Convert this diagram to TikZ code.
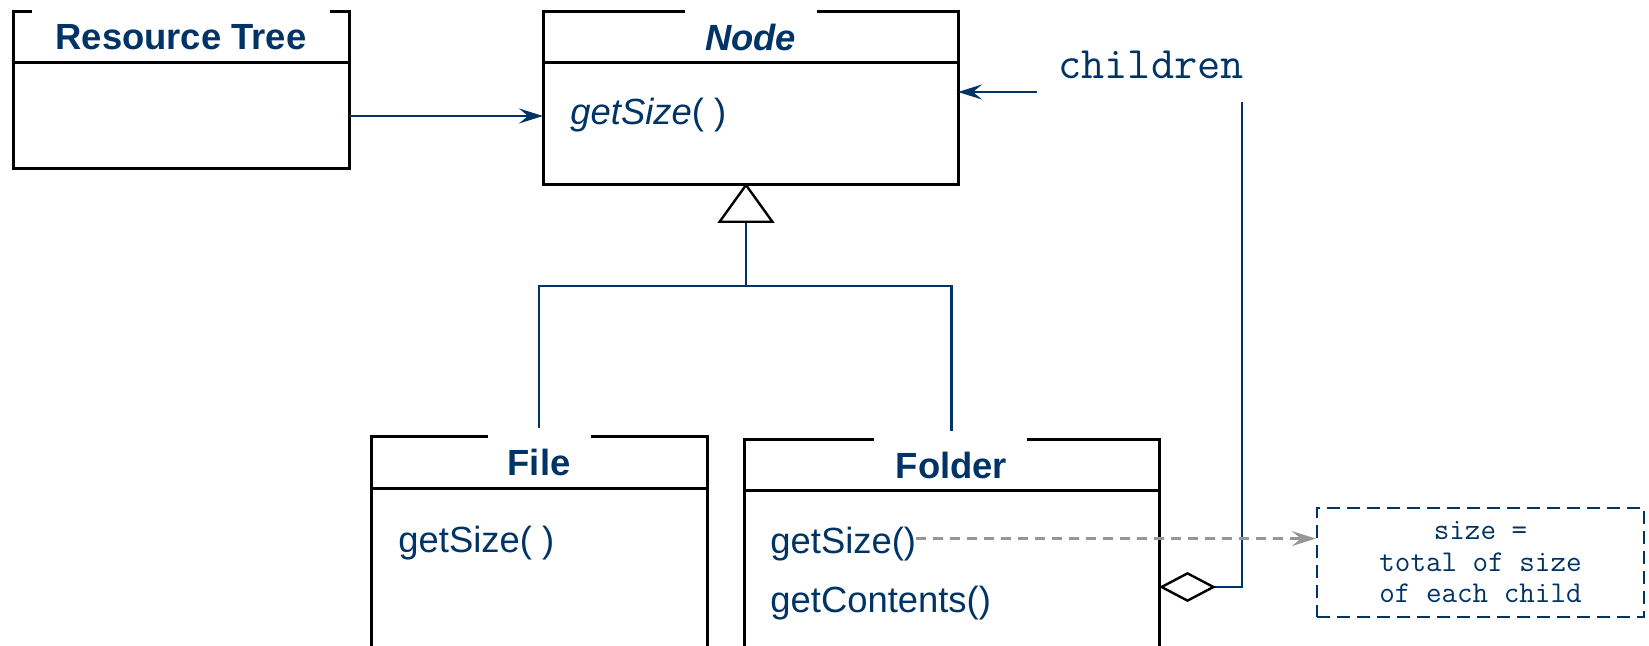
\documentclass[tikz,border=0pt]{standalone}
\usepackage{fontspec}
\setmainfont{Liberation Sans}
\usetikzlibrary{arrows.meta}
\definecolor{umlblue}{RGB}{0,51,102}
\definecolor{depgray}{RGB}{150,150,150}

\begin{document}
\begin{tikzpicture}[x=0.5pt,y=-0.5pt,
	head/.style={draw=black,line width=1.5pt,inner sep=0pt,outer sep=0pt,text=umlblue,font=\fontsize{18.2}{22}\selectfont\bfseries},
	body/.style={draw=black,line width=1.5pt,inner sep=0pt,outer sep=0pt,anchor=north},
	op/.style={inner sep=0pt,text=umlblue,font=\fontsize{18.2}{22}\selectfont},
	gap/.style={white,line width=2.4pt},
	conn/.style={umlblue,line width=1.25pt},
	nav/.style={conn,-{Stealth[length=12pt,width=7.5pt,inset=4.5pt]}},
	gen/.style={conn,shorten >=-1pt,-{Triangle[open,color=black,length=20pt,width=28.5pt,line width=1.2pt]}},
	dep/.style={depgray,line width=1.2pt,dash pattern=on 5pt off 3.5pt,-{Stealth[length=12pt,width=7.5pt,inset=4.5pt]}},
	note/.style={draw=umlblue,line width=1.2pt,dash pattern=on 6.5pt off 3.5pt,inner sep=0pt,text=umlblue,align=center,font=\ttfamily\fontsize{15.1}{15.75}\selectfont}]
	\useasboundingbox (0,0) rectangle (1649,646);
	\node[head,minimum width=168pt,minimum height=25.5pt] (treehead) at (181,37.5) {Resource Tree};
	\node[body,minimum width=168pt,minimum height=53pt] (treebody) at (treehead.south) {};
	\draw[gap] (32,12) -- (330,12);
	\node[head,minimum width=207.5pt,minimum height=25.5pt] (nodehead) at (750.5,37.5) {\itshape Node};
	\node[body,minimum width=207.5pt,minimum height=61pt] (nodebody) at (nodehead.south) {};
	\draw[gap] (685,12) -- (817,12);
	\node[op,anchor=base west] (nodeop) at (570,125) {\textit{getSize}( )};
	\node[head,minimum width=168pt,minimum height=25.65pt] (filehead) at (539,462.4) {File};
	\node[body,minimum width=168pt,minimum height=82pt] (filebody) at (filehead.south) {};
	\draw[gap] (488,436.7) -- (591,436.7);
	\node[op,anchor=base west] (fileop) at (398,552) {getSize( )};
	\node[head,minimum width=207.5pt,minimum height=25pt] (folderhead) at (951.5,465) {Folder};
	\node[body,minimum width=207.5pt,minimum height=81pt] (folderbody) at (folderhead.south) {};
	\draw[gap] (874,440) -- (1027,440);
	\node[op,anchor=base west] (folderop) at (770,553) {getSize()};
	\node[op,anchor=west] (foldercont) at (770,603) {getContents()};
	\node[op,anchor=base west,font=\ttfamily\fontsize{22.5}{26}\selectfont] (childlabel) at (1058,79) {children};
	\node[note,minimum width=163.5pt,minimum height=54.5pt] (sizenote) at (1480.5,562.5) {size =\\total of size\\of each child};
	\coordinate (childfoot) at (1037,92);
	\coordinate (aggtop) at (1242,102);
	\coordinate (aggcorner) at (1242,587);
	\coordinate (genjoint) at (746,286);
	\draw[nav] (treebody.east) -- (treebody.east -| nodebody.west);
	\draw[nav] (childfoot) -- (childfoot -| nodebody.east);
	\draw[gen] (genjoint) -- (genjoint |- nodebody.south);
	\draw[conn] ([yshift=4.5pt]filehead.north) |- (genjoint) -| ([yshift=4.5pt]folderhead.north);
	\draw[conn,{Diamond[open,color=black,length=28.5pt,width=15pt,line width=1.2pt]}-] (aggcorner -| folderbody.east) -- (aggcorner) -- (aggtop);
	\draw[dep] ([yshift=2.5pt]folderop.east) -- ([yshift=2.5pt]folderop.east -| sizenote.west);
\end{tikzpicture}
\end{document}
